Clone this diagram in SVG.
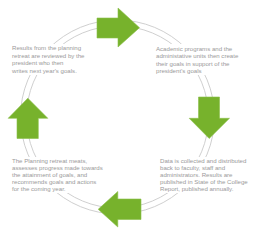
<svg xmlns="http://www.w3.org/2000/svg" width="256" height="236" viewBox="0 0 256 236">
<style>
.ring{fill:none;stroke:#c9c9c9;stroke-width:0.9}
.arrow{fill:#77b22c;stroke:#8cc04a;stroke-width:0.6}
.bg{fill:#ffffff}
text{font-family:"Liberation Sans",Arial,sans-serif;font-size:6.1px;fill:#9a9a9a}
</style>
<rect width="256" height="236" fill="#ffffff"/>
<g id="connectors">
<circle class="ring" cx="117.5" cy="117" r="91"/>
<circle class="ring" cx="117.5" cy="117" r="97"/>
</g>
<g id="text-top-left">
<rect class="bg" x="11" y="44" width="73" height="31"/>
<text x="12" y="50">Results from the planning</text>
<text x="12" y="57.5">retreat are reviewed by the</text>
<text x="12" y="65">president who then</text>
<text x="12" y="72.5">writes next year's goals.</text>
</g>
<g id="text-top-right">
<rect class="bg" x="155" y="44" width="90" height="31"/>
<text x="156" y="50.5">Academic programs and the</text>
<text x="156" y="58">administative units then create</text>
<text x="156" y="65.5">their goals in support of the</text>
<text x="156" y="73">president’s goals</text>
</g>
<g id="text-bottom-right">
<rect class="bg" x="159" y="157" width="90" height="36"/>
<text x="160" y="162.5">Data is collected and distributed</text>
<text x="160" y="169.5">back to faculty, staff and</text>
<text x="160" y="176.7">administrators. Results are</text>
<text x="160" y="184">published in State of the College</text>
<text x="160" y="191">Report, published annually.</text>
</g>
<g id="text-bottom-left">
<rect class="bg" x="11" y="157" width="90" height="36"/>
<text x="12" y="162.5">The Planning retreat meats,</text>
<text x="12" y="169.5">assesses progress made towards</text>
<text x="12" y="176.7">the attainment of goals, and</text>
<text x="12" y="184">recommends goals and actions</text>
<text x="12" y="191">for the coming year.</text>
</g>
<g id="arrow-top"><polygon class="arrow" points="97,18 118,18 118,8 139.5,27.7 118,47 118,38 97,38"/></g>
<g id="arrow-right"><polygon class="arrow" points="198.5,97 219.5,97 219.5,118.3 229.5,118.3 209.2,138.5 189.2,118.3 198.5,118.3"/></g>
<g id="arrow-bottom"><polygon class="arrow" points="141,199 117.8,199 117.8,191.5 98.2,209.3 117.8,227 117.8,219.5 141,219.5"/></g>
<g id="arrow-left"><polygon class="arrow" points="17,138.5 38.3,138.5 38.3,118.3 47.8,118.3 27.8,98.2 8.2,118.3 17,118.3"/></g>
</svg>
